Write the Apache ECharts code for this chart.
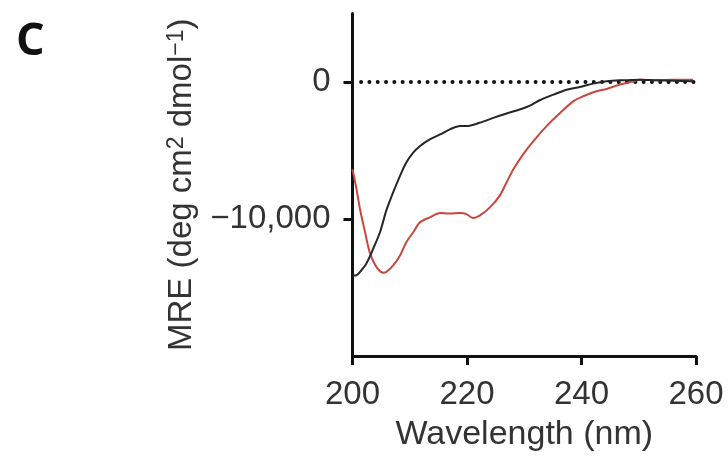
<!DOCTYPE html>
<html>
<head>
<meta charset="utf-8">
<script src="https://cdn.jsdelivr.net/npm/echarts@6/dist/echarts.min.js"></script>
<style>html,body{margin:0;padding:0;background:#fff}#c{width:728px;height:472px}</style>
</head>
<body>
<div id="c"></div>
<script>
// Wavelength (nm) and MRE values
const blackWave = [200, 200.7, 201.3, 202.4, 203.6, 204.8, 205.9, 207.1, 208.3, 209.4, 210.6, 211.8, 213.5, 215.3, 217.0, 218.8, 219.9, 222.2, 224.6, 226.9, 229.2, 231.0, 232.7, 235.1, 237.4, 239.7, 242.0, 244.4, 246.7, 250.2, 253.1, 256.0, 259.5];
const blackMRE  = [-14120, -14100, -13870, -13270, -12180, -10970, -9390, -8060, -6850, -5880, -5160, -4670, -4190, -3830, -3460, -3220, -3220, -2980, -2620, -2300, -2010, -1720, -1330, -920, -560, -360, -120, 50, 120, 170, 120, 100, 50];
const redWave = [200, 200.7, 201.3, 202.2, 203.0, 204.2, 205.4, 205.9, 207.1, 208.3, 209.4, 210.6, 211.8, 213.5, 215.3, 217.0, 218.8, 219.9, 221.1, 222.2, 224.0, 225.7, 226.9, 228.1, 229.8, 231.6, 233.9, 236.3, 238.6, 240.3, 242.6, 244.4, 246.7, 249.1, 250.2, 253.1, 256.0, 259.5];
const redMRE  = [-6370, -7820, -9270, -10970, -12420, -13510, -13920, -13870, -13390, -12660, -11690, -10970, -10240, -9880, -9560, -9590, -9560, -9640, -9930, -9760, -9150, -8310, -7340, -6370, -5280, -4310, -3220, -2250, -1400, -1040, -680, -510, -190, 50, 170, 120, 170, 170];
const zeroWave = [201.5, 260];
const zeroMRE = [0, 0];
const xTicks = [200, 220, 240, 260];
const yTicks = [-10000, 0];

const zip = (a, b) => a.map((v, i) => [v, b[i]]);
const FONT = '"Liberation Sans", Arial, sans-serif';
const chart = echarts.init(document.getElementById('c'), null, {renderer: 'canvas'});
chart.setOption({
  animation: false,
  backgroundColor: '#ffffff',
  grid: {left: 352.5, right: 32, top: 13.5, bottom: 116, containLabel: false, outerBoundsMode: 'none'},
  graphic: [{
    type: 'text', left: 16, top: 20,
    style: {text: 'C', font: 'bold 45px "Open Sans", "Liberation Sans", sans-serif', fill: '#111'}
  }],
  xAxis: {
    type: 'value', min: 200, max: 260, interval: 20,
    name: 'Wavelength (nm)', nameLocation: 'middle', nameGap: 62,
    nameTextStyle: {fontFamily: FONT, fontSize: 34, color: '#333'},
    axisLine: {onZero: false, lineStyle: {color: '#111', width: 3}},
    axisTick: {show: true, length: 9, lineStyle: {color: '#111', width: 3}, customValues: xTicks},
    axisLabel: {fontFamily: FONT, fontSize: 33, color: '#333', margin: 22, customValues: xTicks},
    splitLine: {show: false}
  },
  yAxis: {
    type: 'value', min: -20000, max: 5000,
    name: 'MRE (deg cm{sup|2} dmol{sup|\u22121})', nameLocation: 'middle', nameGap: 154,
    nameTextStyle: {
      fontFamily: FONT, fontSize: 33, color: '#333',
      rich: {sup: {fontFamily: FONT, fontSize: 23, color: '#333', verticalAlign: 'top', lineHeight: 22}}
    },
    axisLine: {show: true, onZero: false, lineStyle: {color: '#111', width: 3}},
    axisTick: {show: true, length: 9, lineStyle: {color: '#111', width: 3}, customValues: yTicks},
    axisLabel: {
      fontFamily: FONT, fontSize: 33, color: '#333', margin: 22, customValues: yTicks,
      formatter: v => v === 0 ? '0' : (v < 0 ? '\u2212' : '') + Math.abs(v).toLocaleString('en-US')
    },
    splitLine: {show: false}
  },
  series: [
    {
      type: 'line', data: zip(zeroWave, zeroMRE), showSymbol: false, silent: true,
      lineStyle: {color: '#111', width: 4, type: [0.01, 8.3], cap: 'round'}, z: 1
    },
    {
      type: 'line', data: zip(blackWave, blackMRE), showSymbol: false, smooth: 0.3,
      lineStyle: {color: '#262626', width: 2}, z: 3
    },
    {
      type: 'line', data: zip(redWave, redMRE), showSymbol: false, smooth: 0.3,
      lineStyle: {color: '#c9473f', width: 2}, z: 2
    }
  ]
});
</script>
</body>
</html>
